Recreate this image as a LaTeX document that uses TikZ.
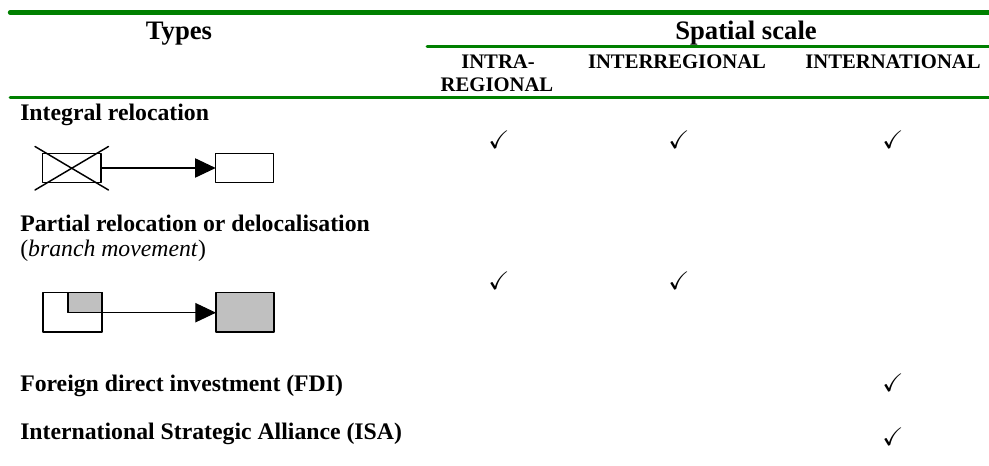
\documentclass[tikz,border=0pt]{standalone}
\usepackage{tkz-euclide}
\usepackage{tikz}
\usepackage{amsmath}
\usepackage{amssymb}
\usepackage{fontspec}
\setmainfont{Liberation Serif}
\usetikzlibrary{arrows.meta}
\definecolor{rulegreen}{RGB}{0,128,0}
\definecolor{boxgray}{RGB}{192,192,192}
\tikzset{
  headlabel/.style={anchor=base, inner sep=0pt, font=\fontsize{20}{24}\selectfont\bfseries},
  collabel/.style={anchor=base, inner sep=0pt, font=\fontsize{15.5}{18}\selectfont\bfseries},
  typelabel/.style={anchor=base west, inner sep=0pt, font=\fontsize{17.8}{21}\selectfont\bfseries},
  tickmark/.style={inner sep=0pt, font=\fontsize{19}{21}\selectfont},
  thickrule/.style={draw=rulegreen, line width=3.2pt},
  thinrule/.style={draw=rulegreen, line width=2.2pt},
  boxline/.style={draw=black, line width=1.1pt},
  flowarrow/.style={draw=black, line width=0.8pt, -{Triangle[length=15.5pt,width=14.5pt]}},
}

\begin{document}
\begin{tikzpicture}[x=0.75pt, y=-0.75pt]
    \useasboundingbox (0,0) rectangle (989,466);
    % green rules of the table
    \tkzDefPoints{10/12.5/R1,989/12.5/R2,427/46.7/S1,989/46.7/S2,10/97.5/T1,989/97.5/T2}
    \tkzDrawSegments[thickrule](R1,R2)
    \tkzDrawSegments[thinrule](S1,S2 T1,T2)
    % headers
    \node[headlabel] (types) at (179,40) {Types};
    \node[headlabel] (spatial) at (746,40) {Spatial scale};
    \node[collabel] (intraA) at (498,68.3) {INTRA-};
    \node[collabel] (intraB) at (497,91.7) {REGIONAL};
    \node[collabel] (inter) at (677,68.3) {INTERREGIONAL};
    \node[collabel] (intl) at (893,68.3) {INTERNATIONAL};
    % row labels
    \node[typelabel] (integral) at (20,121) {Integral relocation};
    \node[typelabel] (partial) at (20,231.5) {Partial relocation or delocalisation};
    \node[typelabel, font=\fontsize{17.8}{21}\selectfont] (branch) at (20,257) {(\textit{branch movement})};
    \node[typelabel] (fdi) at (20,391.5) {Foreign direct investment (FDI)};
    \node[typelabel] (isa) at (20,440) {International Strategic Alliance (ISA)};
    % integral relocation
    \tkzDefPoints{42.3/153.3/A1,101/153.3/B1,101/182.7/C1,42.3/182.7/D1}
    \tkzDefPoints{215.7/153.3/E1,273.3/153.3/F1,273.3/182.7/G1,215.7/182.7/H1}
    \tkzDefPoints{35/146.5/X1,108.5/190/X2,35/190/X3,108.5/146.5/X4}
    \tkzDefPoints{101/168/P1,215.7/168/Q1}
    \tkzDrawPolygon[boxline](A1,B1,C1,D1)
    \tkzDrawPolygon[boxline](E1,F1,G1,H1)
    \tkzDrawSegments[boxline](X1,X2 X3,X4)
    \tkzDrawSegments[flowarrow](P1,Q1)
    % partial relocation
    \tkzDefPoints{43/292.7/A2,102/292.7/B2,102/332/C2,43/332/D2}
    \tkzDefPoints{68/292.7/K1,102/292.7/K2,102/312.7/K3,68/312.7/K4}
    \tkzDefPoints{216/292.7/E2,274/292.7/F2,274/332/G2,216/332/H2}
    \tkzDefPoints{216/312.7/Q2}
    \tkzDrawPolygon[boxline](A2,B2,C2,D2)
    \tkzDrawPolygon[boxline, fill=boxgray](K1,K2,K3,K4)
    \tkzDrawPolygon[boxline, fill=boxgray](E2,F2,G2,H2)
    \tkzDrawSegments[flowarrow](K4,Q2)
    % ticks
    \foreach \cx/\cy [count=\i] in {499/140,679/140,893/140,499/281,679/281,893/383,893/437}
      \node[tickmark] (chk\i) at (\cx,\cy) {$\checkmark$};
\end{tikzpicture}
\end{document}
